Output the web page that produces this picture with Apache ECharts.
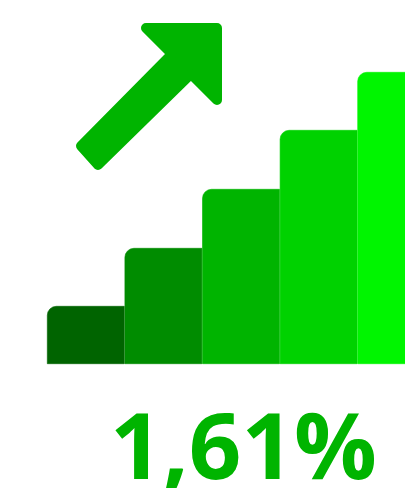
<!DOCTYPE html>
<html><head><meta charset="utf-8">
<style>html,body{margin:0;padding:0;background:#fff}#c{width:405px;height:488px}</style>
<script src="https://cdn.jsdelivr.net/npm/echarts@6/dist/echarts.min.js"></script>
</head><body><div id="c"></div>
<script>
const categories = ['1','2','3','4','5'];
const values = [58,116,175,234,292];
const colors = ['#006400','#008c00','#00b400','#00d200','#00f500'];
const labelText = '1,61%';
const chart = echarts.init(document.getElementById('c'),null,{renderer:'canvas'});
chart.setOption({
  animation:false,
  grid:{left:47,top:72,width:388,height:292,containLabel:false,outerBoundsMode:'none'},
  xAxis:{type:'category',data:categories,show:false},
  yAxis:{type:'value',min:0,max:292,show:false},
  series:[{type:'bar',barWidth:'100%',clip:true,
    data:values.map((v,i)=>({value:v,itemStyle:{color:colors[i],borderColor:colors[i],borderWidth:0.6,borderRadius:[9,0,0,0]}}))}],
  graphic:{elements:[
   {type:'polygon',silent:true,
    shape:{points:[[146,28],[217,28],[217,100],[191,74],[98,165],[81,146],[172,54]]},
    style:{fill:'#00b400',stroke:'#00b400',lineWidth:10,lineJoin:'round'}},
   {type:'text',silent:true,left:110,top:407,
    style:{text:labelText,fill:'#00b400',font:'bold 92px "Open Sans"'}}
  ]}
});
</script></body></html>
